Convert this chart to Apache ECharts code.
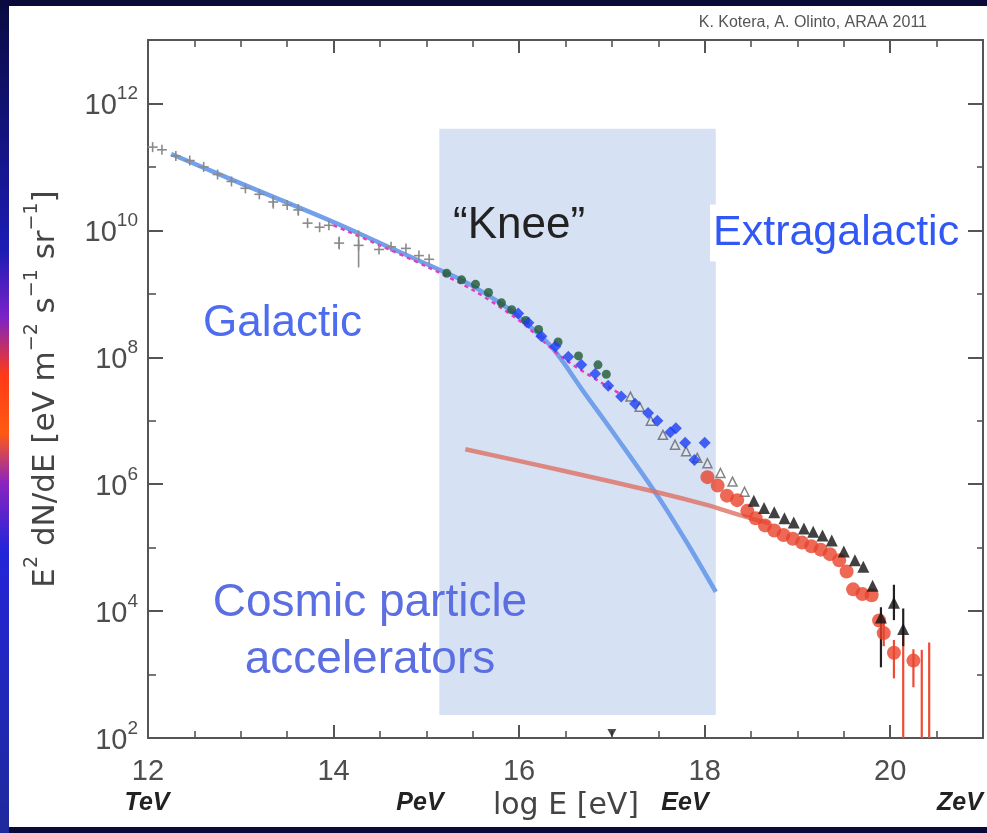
<!DOCTYPE html>
<html>
<head>
<meta charset="utf-8">
<script src="https://cdn.jsdelivr.net/npm/echarts@6/dist/echarts.min.js"></script>
<style>
  html, body { margin: 0; padding: 0; background: #0a0a3a; }
  #chart { width: 987px; height: 833px; }
</style>
</head>
<body>
<div id="chart"></div>
<script>
// Cosmic-ray spectrum: x = log10(E / eV), y = E^2 dN/dE [eV m^-2 s^-1 sr^-1]

// Low-energy direct / air-shower measurements (gray crosses)
const directPoints = [
  [12.05, 2.05e11], [12.15, 1.86e11], [12.30, 1.48e11], [12.45, 1.26e11],
  [12.60, 1.0e11], [12.75, 7.6e10], [12.90, 5.9e10], [13.05, 4.6e10],
  [13.20, 3.7e10], [13.35, 2.8e10], [13.50, 2.5e10], [13.62, 2.1e10],
  [13.72, 1.3e10], [13.85, 1.12e10], [13.95, 1.2e10], [14.06, 6.3e9],
  [14.27, 5.8e9], [14.49, 5.0e9], [14.62, 5.5e9], [14.78, 5.2e9],
  [14.92, 4.0e9], [15.03, 3.5e9]
];
// [logE, low, high]
const directErrors = [
  [13.35, 2.2e10, 3.5e10], [13.62, 1.7e10, 2.6e10],
  [14.06, 5.0e9, 8.0e9], [14.27, 2.6e9, 1.0e10]
];

// Knee-region experiments
const greenPoints = [
  [15.22, 2.1e9], [15.38, 1.66e9], [15.53, 1.41e9], [15.67, 1.05e9],
  [15.81, 7.2e8], [15.92, 5.6e8], [16.07, 3.8e8], [16.21, 2.75e8],
  [16.42, 1.74e8], [16.64, 1.05e8], [16.85, 7.6e7], [16.94, 5.4e7]
];
const bluePoints = [
  [15.99, 4.9e8], [16.10, 3.5e8], [16.24, 2.14e8], [16.39, 1.48e8],
  [16.53, 1.02e8], [16.67, 7.6e7], [16.82, 5.5e7], [16.96, 3.55e7],
  [17.10, 2.4e7], [17.25, 1.86e7], [17.39, 1.32e7], [17.49, 1.0e7],
  [17.63, 6.6e6], [17.69, 7.6e6], [17.79, 4.5e6], [17.89, 2.4e6],
  [18.00, 4.5e6]
];
const grayTriangles = [
  [17.20, 2.4e7], [17.30, 1.66e7], [17.42, 1.0e7], [17.55, 6.0e6],
  [17.68, 4.2e6], [17.80, 3.3e6], [17.92, 2.6e6], [18.03, 2.14e6],
  [18.17, 1.5e6], [18.30, 1.1e6], [18.43, 7.6e5]
];

// Ultra-high-energy data
const blackTriangles = [
  [18.53, 5.5e5], [18.64, 4.2e5], [18.75, 3.6e5], [18.86, 2.9e5],
  [18.96, 2.5e5], [19.07, 2.0e5], [19.17, 1.78e5], [19.27, 1.55e5],
  [19.37, 1.29e5], [19.50, 8.7e4], [19.62, 6.3e4], [19.71, 5.0e4],
  [19.81, 2.5e4], [19.90, 7.9e3], [20.04, 1.35e4], [20.14, 5.2e3]
];
const blackErrors = [
  [19.90, 1.3e3, 1.15e4], [20.04, 7.2e3, 2.6e4], [20.14, 2.8e3, 1.1e4]
];
const redPoints = [
  [18.03, 1.29e6], [18.14, 9.5e5], [18.24, 6.6e5], [18.35, 5.6e5],
  [18.46, 3.8e5], [18.55, 2.9e5], [18.65, 2.24e5], [18.75, 1.86e5],
  [18.85, 1.58e5], [18.95, 1.38e5], [19.05, 1.2e5], [19.15, 1.05e5],
  [19.25, 9.3e4], [19.35, 7.9e4], [19.45, 6.3e4], [19.53, 4.2e4],
  [19.60, 2.2e4], [19.70, 1.86e4], [19.80, 1.78e4], [19.88, 7.1e3],
  [19.93, 4.5e3], [20.04, 2.2e3], [20.25, 1.66e3]
];
const redErrors = [
  [19.93, 2.8e3, 6.6e3], [20.04, 870, 3.5e3], [20.14, 100, 4.2e3],
  [20.25, 630, 2.5e3], [20.34, 100, 2.45e3], [20.42, 100, 3.2e3]
];

// Model curves
const galacticCurve = [
  [12.25, 1.6e11], [13.0, 5.5e10], [14.0, 1.35e10], [14.5, 6.3e9],
  [15.0, 2.95e9], [15.4, 1.6e9], [15.8, 7.1e8], [16.0, 4.3e8],
  [16.35, 1.45e8], [16.7, 2.8e7], [17.05, 5.5e6], [17.5, 6.3e5],
  [17.8, 1.26e5], [18.12, 2.0e4]
];
const fitLine = [
  [14.0, 1.2e10], [14.5, 5.8e9], [15.0, 2.7e9], [15.5, 1.15e9],
  [16.0, 3.8e8], [16.5, 9.1e7], [17.1, 2.6e7]
];
const extragalacticCurve = [
  [15.42, 3.55e6], [16.5, 1.6e6], [17.5, 7.4e5], [18.0, 4.8e5],
  [18.4, 3.2e5], [18.7, 2.4e5]
];

// Shaded knee/transition band: [[logE, flux], [logE, flux]]
const transitionBand = [[15.14, 230], [18.12, 4.0e11]];
// Reference mark on the energy axis
const axisMarker = [[17.0, 120]];

const xTickLabels = [12, 14, 16, 18, 20];
const unitLabels = ['TeV', 'PeV', 'EeV', 'ZeV'];

const axisColor = '#555';

function errorBars(name, data, color, width) {
  return {
    type: 'custom', name: name, data: data, z: 4, silent: true, clip: true,
    renderItem: function (params, api) {
      const x = api.value(0);
      const lo = api.coord([x, api.value(1)]);
      const hi = api.coord([x, api.value(2)]);
      return {
        type: 'line',
        shape: { x1: lo[0], y1: lo[1], x2: hi[0], y2: hi[1] },
        style: { stroke: color, lineWidth: width }
      };
    }
  };
}

const chart = echarts.init(document.getElementById('chart'));

const xBase = {
  type: 'value', min: 12, max: 21, interval: 2,
  splitLine: { show: false },
  axisLine: { show: true, onZero: false, lineStyle: { color: axisColor, width: 2 } },
  axisTick: { show: true, inside: true, length: 13, lineStyle: { color: axisColor, width: 2 } },
  minorTick: { show: true, splitNumber: 4, length: 7, lineStyle: { color: axisColor, width: 1.6 } }
};
const yBase = {
  type: 'log', logBase: 10, min: 1e2, max: 1e13,
  splitLine: { show: false },
  axisLine: { show: false },
  axisLabel: { show: false }
};

const unitStyle = { fontSize: 25, fontStyle: 'italic', fontWeight: 'bold', fontFamily: 'Liberation Sans', fill: '#222', align: 'center', verticalAlign: 'middle' };
const unitX = [147, 420, 685, 960];

chart.setOption({
  animation: false,
  backgroundColor: '#0a0a3a',
  grid: { left: 148, top: 40, right: 4, bottom: 95 },
  xAxis: [
    Object.assign({}, xBase, {
      position: 'bottom',
      axisLabel: {
        show: true, margin: 19, fontSize: 29, color: '#4d4d4d',
        fontFamily: 'Liberation Sans', showMaxLabel: false,
        formatter: function (v) { return xTickLabels.indexOf(v) >= 0 ? String(v) : ''; }
      }
    }),
    Object.assign({}, xBase, { position: 'top', axisLabel: { show: false } })
  ],
  yAxis: [
    Object.assign({}, yBase, {
      position: 'left', interval: 2,
      axisLine: { show: true, onZero: false, lineStyle: { color: axisColor, width: 2 } },
      axisTick: { show: true, inside: true, length: 15, lineStyle: { color: axisColor, width: 2 } },
      axisLabel: {
        show: true, margin: 10, showMaxLabel: false,
        formatter: function (v) {
          const e = Math.round(Math.log10(v));
          return '{b|10}{s|' + e + '}';
        },
        rich: {
          b: { fontSize: 29, fontFamily: 'Liberation Sans', color: '#4d4d4d', lineHeight: 30, padding: [6, 0, 0, 0] },
          s: { fontSize: 19, fontFamily: 'Liberation Sans', color: '#4d4d4d', lineHeight: 19, padding: [0, 0, 19, 0] }
        }
      }
    }),
    Object.assign({}, yBase, {
      position: 'left', interval: 1,
      axisTick: { show: true, inside: true, length: 8, lineStyle: { color: axisColor, width: 1.6 } }
    }),
    Object.assign({}, yBase, {
      position: 'right', interval: 2,
      axisLine: { show: true, onZero: false, lineStyle: { color: axisColor, width: 2 } },
      axisTick: { show: true, inside: true, length: 15, lineStyle: { color: axisColor, width: 2 } }
    }),
    Object.assign({}, yBase, {
      position: 'right', interval: 1,
      axisTick: { show: true, inside: true, length: 6, lineStyle: { color: axisColor, width: 1.6 } }
    })
  ],
  series: [
    {
      type: 'line', name: 'Galactic', data: galacticCurve, smooth: 0.35,
      showSymbol: false, silent: true, z: 2,
      lineStyle: { color: '#72a0ea', width: 4.5 },
      markArea: {
        silent: true,
        itemStyle: { color: '#d6e2f4' },
        data: [[{ coord: transitionBand[0] }, { coord: transitionBand[1] }]]
      }
    },
    {
      type: 'line', name: 'Extragalactic', data: extragalacticCurve, smooth: 0.3,
      showSymbol: false, silent: true, z: 2,
      lineStyle: { color: 'rgba(222,112,100,0.8)', width: 4.5 }
    },
    {
      type: 'line', name: 'fit', data: fitLine, smooth: 0.3,
      showSymbol: false, silent: true, z: 3,
      lineStyle: { color: '#e040c0', width: 2.5, type: [4, 4] }
    },
    errorBars('direct errors', directErrors, '#8a8a8a', 1.6),
    {
      type: 'custom', name: 'direct', data: directPoints, z: 4, silent: true,
      renderItem: function (params, api) {
        const p = api.coord([api.value(0), api.value(1)]);
        return {
          type: 'group',
          children: [
            { type: 'line', shape: { x1: p[0] - 5, y1: p[1], x2: p[0] + 5, y2: p[1] }, style: { stroke: '#8a8a8a', lineWidth: 1.6 } },
            { type: 'line', shape: { x1: p[0], y1: p[1] - 5, x2: p[0], y2: p[1] + 5 }, style: { stroke: '#8a8a8a', lineWidth: 1.6 } }
          ]
        };
      }
    },
    {
      type: 'scatter', name: 'green', data: greenPoints, z: 4, silent: true,
      symbol: 'circle', symbolSize: 9,
      itemStyle: { color: '#1f5a33' }
    },
    {
      type: 'scatter', name: 'gray triangles', data: grayTriangles, z: 4, silent: true,
      symbol: 'triangle', symbolSize: 9,
      itemStyle: { color: 'rgba(255,255,255,0.2)', borderColor: '#666', borderWidth: 1.5 }
    },
    {
      type: 'scatter', name: 'blue', data: bluePoints, z: 5, silent: true,
      symbol: 'diamond', symbolSize: 12,
      itemStyle: { color: '#1d3ff2' }
    },
    errorBars('red errors', redErrors, '#ef4a35', 2.2),
    {
      type: 'scatter', name: 'red', data: redPoints, z: 5, silent: true,
      symbol: 'circle', symbolSize: 14,
      itemStyle: { color: '#e8432c' }
    },
    errorBars('black errors', blackErrors, '#222', 2.2),
    {
      type: 'scatter', name: 'black', data: blackTriangles, z: 6, silent: true,
      symbol: 'triangle', symbolSize: 12,
      itemStyle: { color: '#111' }
    },
    {
      type: 'scatter', name: 'marker', data: axisMarker, z: 6, silent: true,
      symbol: 'triangle', symbolRotate: 180, symbolSize: [9, 8],
      itemStyle: { color: '#222' }
    }
  ],
  graphic: {
    elements: [
      // side strip of the sky map behind the panel
      {
        type: 'rect', z: -20, silent: true,
        shape: { x: 0, y: 0, width: 9, height: 833 },
        style: {
          fill: new echarts.graphic.LinearGradient(0, 0, 0, 1, [
            { offset: 0, color: '#0a0a40' },
            { offset: 0.3, color: '#1c1cb4' },
            { offset: 0.38, color: '#7a22c8' },
            { offset: 0.45, color: '#ff3a18' },
            { offset: 0.52, color: '#ff5a12' },
            { offset: 0.58, color: '#8a24c0' },
            { offset: 0.66, color: '#2424d8' },
            { offset: 1, color: '#1e2a9c' }
          ])
        }
      },
      // white panel
      {
        type: 'rect', z: -10, silent: true,
        shape: { x: 9, y: 6, width: 978, height: 821 },
        style: { fill: '#ffffff' }
      },
      {
        type: 'text', z: 50, silent: true, x: 927, y: 23,
        style: { text: 'K. Kotera, A. Olinto, ARAA 2011', fontSize: 16, fontFamily: 'Liberation Sans', fill: '#555', align: 'right', verticalAlign: 'middle' }
      },
      {
        type: 'text', z: 50, silent: true, x: 453, y: 226,
        style: { text: '\u201CKnee\u201D', fontSize: 44, fontFamily: 'Liberation Sans', fill: '#222', align: 'left', verticalAlign: 'middle' }
      },
      {
        type: 'text', z: 50, silent: true, x: 710, y: 233,
        style: { text: 'Extragalactic', fontSize: 43, fontFamily: 'Liberation Sans', fill: '#3158f4', align: 'left', verticalAlign: 'middle', backgroundColor: '#ffffff', padding: [6, 4, 8, 3] }
      },
      {
        type: 'text', z: 50, silent: true, x: 203, y: 324,
        style: { text: 'Galactic', fontSize: 44, fontFamily: 'Liberation Sans', fill: '#4d6cf0', align: 'left', verticalAlign: 'middle' }
      },
      {
        type: 'text', z: 50, silent: true, x: 370, y: 603,
        style: { text: 'Cosmic particle', fontSize: 46, fontFamily: 'Liberation Sans', fill: '#5b6ee2', align: 'center', verticalAlign: 'middle' }
      },
      {
        type: 'text', z: 50, silent: true, x: 370, y: 660,
        style: { text: 'accelerators', fontSize: 46, fontFamily: 'Liberation Sans', fill: '#5b6ee2', align: 'center', verticalAlign: 'middle' }
      },
      {
        type: 'text', z: 50, silent: true, x: 566, y: 806,
        style: { text: 'log E [eV]', fontSize: 30, fontFamily: 'DejaVu Sans', fill: '#444', align: 'center', verticalAlign: 'middle' }
      },
      { type: 'text', z: 50, silent: true, x: unitX[0], y: 803, style: Object.assign({ text: unitLabels[0] }, unitStyle) },
      { type: 'text', z: 50, silent: true, x: unitX[1], y: 803, style: Object.assign({ text: unitLabels[1] }, unitStyle) },
      { type: 'text', z: 50, silent: true, x: unitX[2], y: 803, style: Object.assign({ text: unitLabels[2] }, unitStyle) },
      { type: 'text', z: 50, silent: true, x: unitX[3], y: 803, style: Object.assign({ text: unitLabels[3] }, unitStyle) },
      {
        type: 'text', z: 50, silent: true, x: 42, y: 389, rotation: Math.PI / 2,
        style: {
          text: '{n|E}{s|2}{n| dN/dE [eV m}{s|\u22122}{n| s}{s|\u22121}{n| sr}{s|\u22121}{n|]}',
          align: 'center', verticalAlign: 'middle',
          rich: {
            n: { fontSize: 31, fontFamily: 'DejaVu Sans', fill: '#444', lineHeight: 38, verticalAlign: 'bottom' },
            s: { fontSize: 19, fontFamily: 'DejaVu Sans', fill: '#444', lineHeight: 19, verticalAlign: 'top' }
          }
        }
      }
    ]
  }
});
</script>
</body>
</html>
